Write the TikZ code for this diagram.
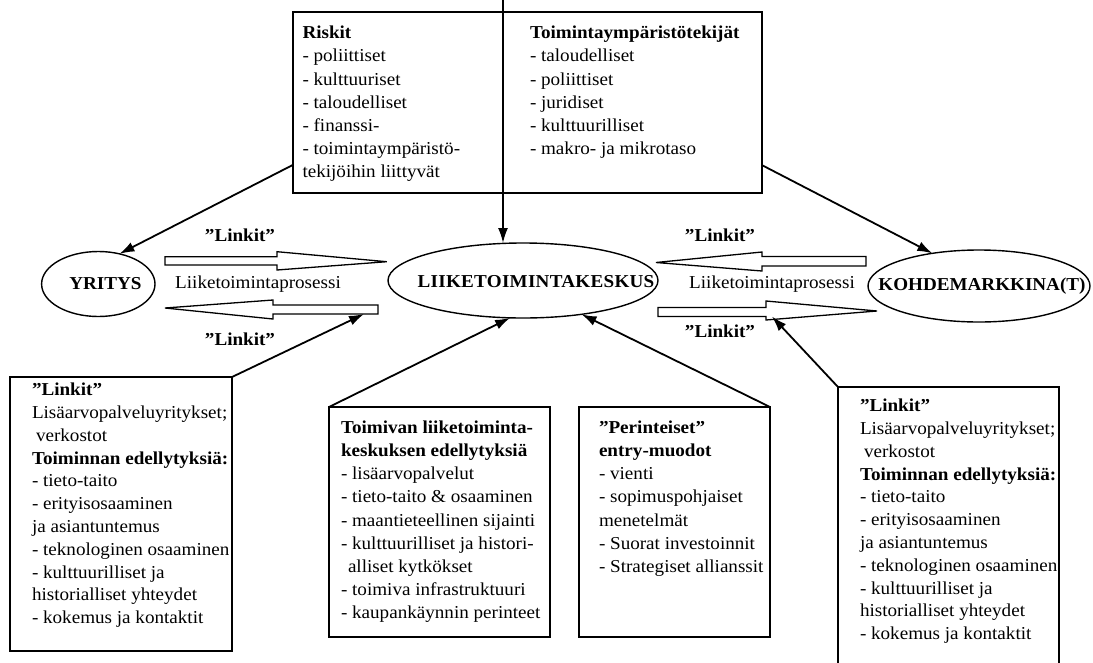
\documentclass[tikz,border=0pt]{standalone}
\usepackage{fontspec}
\setmainfont{Liberation Serif}[FakeStretch=1.05]
\usetikzlibrary{shapes.geometric,arrows.meta}
\tikzset{
 box/.style={draw, line width=1.6pt, rectangle, inner sep=0pt, outer sep=0pt},
 ell/.style={draw, ellipse, line width=1.4pt, inner sep=0pt, outer sep=0pt},
 conn/.style={line width=1.8pt, -{Latex[length=15pt,width=10pt]}},
 blk/.style={draw, line width=1.3pt, line join=miter, fill=white},
 txt/.style={inner sep=0pt, outer sep=0pt, anchor=north west, align=left, font=\fontsize{18.2}{22.8}\selectfont},
 txtw/.style={txt, font=\fontsize{18.2}{23.1}\selectfont},
 lab/.style={inner sep=0pt, font=\bfseries\fontsize{18.2}{22.8}\selectfont},
 plain/.style={inner sep=0pt, font=\fontsize{18.2}{22.8}\selectfont},
}
\begin{document}
\begin{tikzpicture}[x=1pt,y=-1pt]
\path[use as bounding box, fill=white] (0,0) rectangle (1093,662);
\clip (0,0) rectangle (1093,662);

% top boxes
\node[box, anchor=north west, minimum width=210.3pt, minimum height=181.3pt] (riskbox) at (292.7,11.7) {};
\node[box, anchor=north west, minimum width=258.7pt, minimum height=181.3pt] (envbox) at (503,11.7) {};
\node[txt, font=\fontsize{18.2}{23.2}\selectfont] (risktxt) at (302.5,26) {\textbf{Riskit}\\- poliittiset\\- kulttuuriset\\- taloudelliset\\- finanssi-\\- toimintaympäristö-\\tekijöihin liittyvät};
\node[txt, font=\fontsize{18.2}{23.2}\selectfont] (envtxt) at (530,26) {\textbf{Toimintaympäristötekijät}\\- taloudelliset\\- poliittiset\\- juridiset\\- kulttuurilliset\\- makro- ja mikrotaso};

% ellipses
\node[ell, minimum width=113.4pt, minimum height=65pt] (yr) at (98.3,284) {};
\node[lab] (yrt) at (105.5,283.5) {YRITYS};
\node[ell, minimum width=270pt, minimum height=75pt] (lk) at (523,280.5) {};
\node[lab] (lkt) at (536,281.5) {\addfontfeature{LetterSpace=1.5}LIIKETOIMINTAKESKUS};
\node[ell, minimum width=222pt, minimum height=72pt] (km) at (979,286) {};
\node[lab] (kmt) at (982,286) {KOHDEMARKKINA(T)};

% block arrows
\draw[blk] (165,256.7) -- (277,256.7) -- (277,251.7) -- (386.7,261.7) -- (277,270) -- (277,265) -- (165,265) -- cycle;
\draw[blk] (165,308) -- (273,300) -- (273,305) -- (378,305) -- (378,314) -- (273,314) -- (273,319) -- cycle;
\draw[blk] (656,262.5) -- (762,252) -- (762,256.5) -- (866,256.5) -- (866,266) -- (762,266) -- (762,271) -- cycle;
\draw[blk] (658,307.5) -- (766,307.5) -- (766,301) -- (877,311) -- (766,320) -- (766,316.5) -- (658,316.5) -- cycle;
\coordinate (ba2t) at (364,314);
\coordinate (ba4t) at (772,316.5);

% labels on arrows
\node[lab] (l1) at (240,235) {”Linkit”};
\node[lab] (l2) at (240,339) {”Linkit”};
\node[lab] (l3) at (720,235) {”Linkit”};
\node[lab] (l4) at (720,331) {”Linkit”};
\node[plain] (p1) at (258,284) {Liiketoimintaprosessi};
\node[plain] (p2) at (772,284) {Liiketoimintaprosessi};

% bottom boxes
\node[box, anchor=north west, minimum width=222pt, minimum height=274pt] (llbox) at (10,377) {};
\node[txt] (lltxt) at (32,383) {\textbf{”Linkit”}\\Lisäarvopalveluyritykset;\\\hspace*{4pt}verkostot\\\textbf{Toiminnan edellytyksiä:}\\- tieto-taito\\- erityisosaaminen\\ja asiantuntemus\\- teknologinen osaaminen\\- kulttuurilliset ja\\historialliset yhteydet\\- kokemus ja kontaktit};

\node[box, anchor=north west, minimum width=221pt, minimum height=230pt] (tvbox) at (329,407) {};
\node[txtw] (tvtxt) at (341,421) {\textbf{Toimivan liiketoiminta-}\\\textbf{keskuksen edellytyksiä}\\- lisäarvopalvelut\\- tieto-taito \& osaaminen\\- maantieteellinen sijainti\\- kulttuurilliset ja histori-\\\hspace*{7pt}alliset kytkökset\\- toimiva infrastruktuuri\\- kaupankäynnin perinteet};

\node[box, anchor=north west, minimum width=191pt, minimum height=230pt] (pebox) at (579,407) {};
\node[txtw] (petxt) at (599,421) {\textbf{”Perinteiset”}\\\textbf{entry-muodot}\\- vienti\\- sopimuspohjaiset\\menetelmät\\- Suorat investoinnit\\- Strategiset allianssit};

\node[box, anchor=north west, minimum width=221pt, minimum height=300pt] (rbox) at (838,387) {};
\node[txt] (rtxt) at (860,399) {\textbf{”Linkit”}\\Lisäarvopalveluyritykset;\\\hspace*{4pt}verkostot\\\textbf{Toiminnan edellytyksiä:}\\- tieto-taito\\- erityisosaaminen\\ja asiantuntemus\\- teknologinen osaaminen\\- kulttuurilliset ja\\historialliset yhteydet\\- kokemus ja kontaktit};

% connectors
\coordinate (topc) at (503,0);
\draw[conn] (topc) -- (topc |- lk.north);
\draw[conn] ([yshift=28pt]riskbox.south west) -- (yr.55);
\draw[conn] ([yshift=28pt]envbox.south east) -- (km.145);
\draw[conn] (llbox.north east) -- (ba2t);
\draw[conn] (tvbox.north west) -- (lk.251);
\draw[conn] (pebox.north east) -- (lk.330);
\draw[conn] (rbox.north west) -- (ba4t);
\end{tikzpicture}
\end{document}
